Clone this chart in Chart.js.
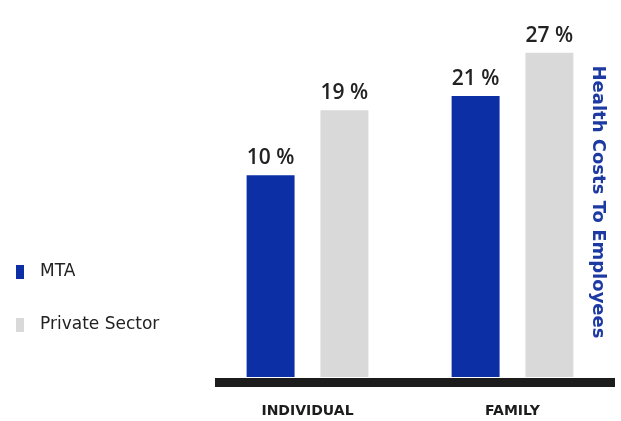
<!DOCTYPE html>
<html>
<head>
<meta charset="utf-8">
<script src="https://cdn.jsdelivr.net/npm/chart.js@4"></script>
<style>
  body { margin:0; background:#fff; }
  #wrap { width:621px; height:421px; position:relative; }
</style>
</head>
<body>
<div id="wrap"><canvas id="myChart"></canvas></div>
<script>
// chart data
var categories = ['INDIVIDUAL', 'FAMILY'];
var mtaValues = [10, 21];
var privateValues = [19, 27];
var seriesNames = ['MTA', 'Private Sector'];
var chartTitle = 'Health Costs To Employees';

var BLUE = '#0c2fa5';
var GRAY = '#d9d9d9';
var FONT = '"Open Sans", sans-serif';
var WIDE = '"DejaVu Sans", sans-serif';
var AXIS_BASE = -18;

// labels above bars, legend on the left, thick black baseline, rotated title
var extras = {
  id: 'extras',
  afterDatasetsDraw: function(chart) {
    var ctx = chart.ctx;
    var area = chart.chartArea;
    ctx.save();

    // value labels
    ctx.fillStyle = '#222';
    ctx.font = '600 21px ' + FONT;
    ctx.textAlign = 'center';
    ctx.textBaseline = 'alphabetic';
    chart.data.datasets.forEach(function(ds, di) {
      chart.getDatasetMeta(di).data.forEach(function(bar, i) {
        ctx.fillText(ds.data[i] + ' %', bar.x, bar.y - 11);
      });
    });

    // black baseline
    ctx.fillStyle = '#1c1c1c';
    ctx.fillRect(215, area.bottom + 1, 400, 9);

    // legend
    var legendY = [272, 325];
    chart.data.datasets.forEach(function(ds, di) {
      ctx.fillStyle = ds.backgroundColor;
      ctx.fillRect(16, legendY[di] - 7, 8, 14);
      ctx.fillStyle = '#222';
      ctx.font = '17px ' + WIDE;
      ctx.textAlign = 'left';
      ctx.textBaseline = 'middle';
      ctx.fillText(ds.label, 40, legendY[di]);
    });

    // rotated title
    ctx.translate(598, 202);
    ctx.rotate(Math.PI / 2);
    ctx.fillStyle = '#1d3aa3';
    ctx.font = 'bold 18px ' + WIDE;
    ctx.textAlign = 'center';
    ctx.textBaseline = 'middle';
    ctx.fillText(chartTitle, 0, 0);
    ctx.restore();
  }
};

var ctx = document.getElementById('myChart').getContext('2d');
var chart = new Chart(ctx, {
  type: 'bar',
  data: {
    labels: categories,
    datasets: [{
      label: seriesNames[0],
      data: mtaValues,
      backgroundColor: BLUE,
      base: AXIS_BASE,
      categoryPercentage: 0.72,
      barPercentage: 0.65
    }, {
      label: seriesNames[1],
      data: privateValues,
      backgroundColor: GRAY,
      base: AXIS_BASE,
      categoryPercentage: 0.72,
      barPercentage: 0.65
    }]
  },
  options: {
    responsive: true,
    maintainAspectRatio: false,
    animation: false,
    layout: { padding: { left: 205, right: 6, top: 31, bottom: 0 } },
    plugins: {
      legend: { display: false },
      tooltip: { enabled: false }
    },
    scales: {
      x: {
        grid: { display: false },
        border: { display: false },
        afterFit: function(scale) { scale.height = 44; },
        ticks: {
          color: '#1c1c1c',
          font: { family: WIDE, size: 14, weight: 'bold' },
          padding: 18
        }
      },
      y: {
        display: false,
        min: AXIS_BASE,
        max: 30
      }
    }
  },
  plugins: [extras]
});
</script>
</body>
</html>
